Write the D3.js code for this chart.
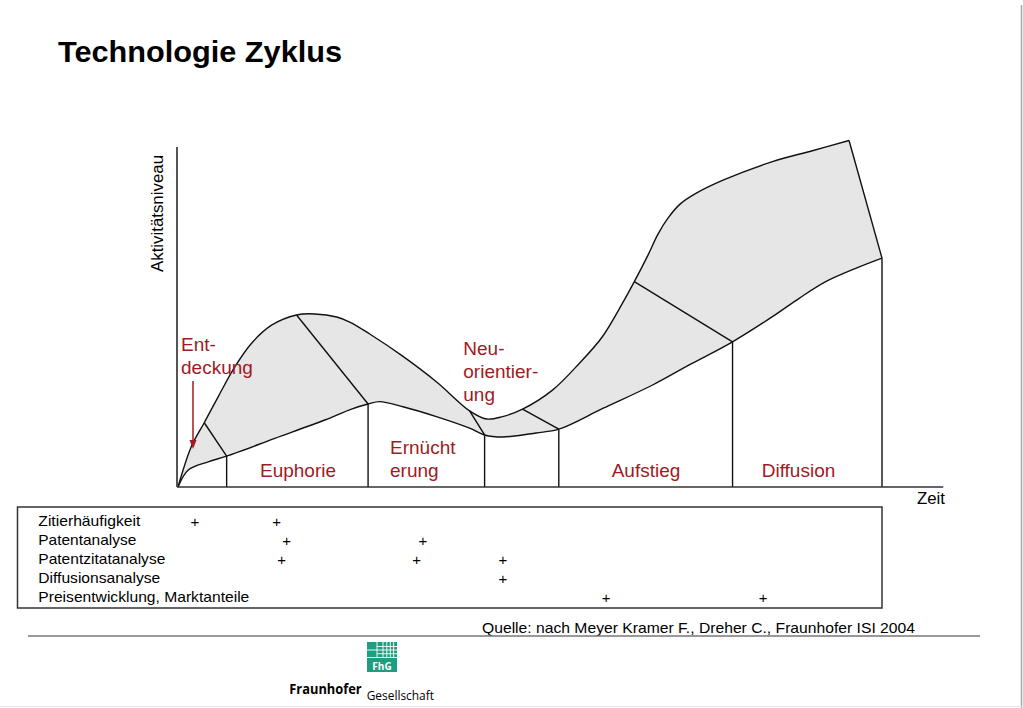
<!DOCTYPE html>
<html><head><meta charset="utf-8">
<script src="https://cdn.jsdelivr.net/npm/d3@7"></script>
<style>
html,body{margin:0;padding:0;background:#fff;}
svg{display:block;}
text{font-family:"Liberation Sans",Arial,Helvetica,sans-serif;}
</style>
</head><body>
<svg id="c" width="1023" height="708"></svg>
<script>
// ---------- data (time 0..100, activity 0..100) ----------
const upperCurve = [[0,0],[1.9,11.9],[3.73,18.9],[5.72,26.6],[8.09,35.4],[10.45,42.3],[13.29,47.6],[16.84,50.6],[19.43,50.9],[22.55,50.0],[24.4,48.5],[27.23,45.0],[31.91,38.5],[36.74,30.9],[41.42,22.4],[43.83,20.0],[46.1,20.7],[48.94,22.9],[53.19,28.5],[57.02,36.4],[60.28,44.2],[63.12,54.0],[64.82,60.4],[66.76,68.2],[68.18,74.4],[69.6,79.1],[71.31,83.2],[73.44,86.2],[77.5,90.3],[84.44,95.7],[90.11,98.9],[95.32,101.9]];
const lowerCurve = [[0,0],[1.46,5.0],[4.3,7.4],[6.91,9.1],[13.76,14.3],[20.85,19.7],[24.64,22.9],[27.0,24.4],[28.65,25.1],[31.96,23.6],[36.7,20.7],[41.42,17.3],[43.55,15.3],[46.14,14.7],[50.88,15.9],[54.09,17.0],[60.33,23.1],[67.42,30.0],[72.62,35.9],[78.77,42.7],[84.44,50.1],[88.23,55.5],[92.01,60.4],[96.27,64.3],[100,67.3]];
const dividerTop    = [[3.73,18.9],[16.84,50.6],[41.42,22.4],[48.94,22.9],[64.82,60.4],[95.32,101.9]];
const dividerBottom = [[6.91,9.1],[27.0,24.4],[43.55,15.3],[54.09,17.0],[78.77,42.7],[100,67.3]];
const phaseLabels = [["Ent-","deckung"],["Euphorie"],["Ernücht","erung"],["Neu-","orientier-","ung"],["Aufstieg"],["Diffusion"]];
const methods = ["Zitierhäufigkeit","Patentanalyse","Patentzitatanalyse","Diffusionsanalyse","Preisentwicklung, Marktanteile"];
const methodMarks = [[2.41,14.02],[15.44,34.8],[14.73,33.9,46.16],[46.16],[60.8,83.1]];
const axisEnd = 108.7;
const titleText = "Technologie Zyklus";
const yAxisTitle = "Aktivitätsniveau";
const xAxisTitle = "Zeit";
const sourceText = "Quelle: nach Meyer Kramer F., Dreher C., Fraunhofer ISI 2004";

// ---------- drawing ----------
const svg = d3.select("#c");
const RED = "#a01a1f";
const x = d3.scaleLinear().domain([0,100]).range([178,882]);
const y = d3.scaleLinear().domain([0,100]).range([487,147]);

function txt(g, s, px, py, o) {
  const t = g.append("text").attr("x",px).attr("y",py).text(s)
    .attr("font-size",o.size).attr("fill",o.fill||"#000");
  if (o.bold) t.attr("font-weight","bold");
  if (o.anchor) t.attr("text-anchor",o.anchor);
  if (o.len) t.attr("textLength",o.len).attr("lengthAdjust","spacingAndGlyphs");
  if (o.family) t.style("font-family",o.family);
  return t;
}

// frame lines
svg.append("line").attr("x1",1021.5).attr("x2",1021.5).attr("y1",5).attr("y2",708).attr("stroke","#a8a8a8").attr("stroke-width",1.5);
svg.append("line").attr("x1",0).attr("x2",1023).attr("y1",706.5).attr("y2",706.5).attr("stroke","#e4e4e4").attr("stroke-width",1);

// title
txt(svg, titleText, 58, 62, {size:30, bold:true, len:284});

const line = d3.line().x(d=>x(d[0])).y(d=>y(d[1])).curve(d3.curveCatmullRom.alpha(0.5));
const upPath = line(upperCurve);
const lowRev = line(lowerCurve.slice().reverse());
svg.append("path").attr("d", upPath + "L" + lowRev.slice(1) + "Z").attr("fill","#e6e6e6").attr("stroke","none");

// dividers (slanted + vertical)
const g = svg.append("g").attr("stroke","#111").attr("stroke-width",1.4).attr("fill","none");
dividerTop.forEach((d,i)=>{
  const b = dividerBottom[i];
  g.append("line").attr("x1",x(d[0])).attr("y1",y(d[1])).attr("x2",x(b[0])).attr("y2",y(b[1]));
  g.append("line").attr("x1",x(b[0])).attr("y1",y(b[1])).attr("x2",x(b[0])).attr("y2",y(0));
});
g.append("path").attr("d",upPath);
g.append("path").attr("d",line(lowerCurve));

// axes
svg.append("line").attr("x1",x(0)-1).attr("x2",x(0)-1).attr("y1",y(100)).attr("y2",y(0)).attr("stroke","#555").attr("stroke-width",2);
svg.append("line").attr("x1",x(0)-1).attr("x2",x(axisEnd)).attr("y1",y(0)).attr("y2",y(0)).attr("stroke","#333").attr("stroke-width",1.6);
txt(svg, xAxisTitle, 917, 504, {size:16, len:28});
txt(svg.append("g").attr("transform","translate(162.5,272) rotate(-90)"), yAxisTitle, 0, 0, {size:16, len:117});

// phase labels
const labelPos = [
  {x:181, ys:[351,374]},
  {x:260, ys:[476.5]},
  {x:390, ys:[454,476.5]},
  {x:463.3, ys:[354.5,378,401]},
  {x:611.7, ys:[477]},
  {x:761.7, ys:[477]}
];
phaseLabels.forEach((lines,i)=>{
  lines.forEach((s,j)=>txt(svg, s, labelPos[i].x, labelPos[i].ys[j], {size:19, fill:RED}));
});
// arrow under "Entdeckung"
svg.append("line").attr("x1",193).attr("x2",193).attr("y1",381).attr("y2",442).attr("stroke",RED).attr("stroke-width",1.5);
svg.append("path").attr("d","M189.5,440 L196.5,440 L193,449 Z").attr("fill",RED);

// methods table
svg.append("rect").attr("x",17.5).attr("y",507).attr("width",864.5).attr("height",101).attr("fill","none").attr("stroke","#333").attr("stroke-width",1.5);
const row = d3.scalePoint().domain(methods).range([526,602]);
const methodLens = [102,98,127,122,211];
methods.forEach((m,i)=>{
  txt(svg, m, 38.3, row(m), {size:15, len:methodLens[i]});
  methodMarks[i].forEach(t=>txt(svg, "+", x(t), row(m)+1, {size:15, anchor:"middle"}));
});

// source
txt(svg, sourceText, 482, 633, {size:15, len:433});
svg.append("line").attr("x1",28).attr("x2",980).attr("y1",636).attr("y2",636).attr("stroke","#777").attr("stroke-width",1.5);

// logo
const lg = svg.append("g");
lg.append("rect").attr("x",367).attr("y",642).attr("width",30).attr("height",30).attr("fill","#1f9d80");
const wl = lg.append("g").attr("stroke","#fff").attr("stroke-width",0.9);
[[377,642,377,657.5],[383,642,383,657.5],[386.8,642,386.8,657.5],[390.3,642,390.3,657.5],[393.6,642,393.6,657.5],
 [377,646.5,397,646.5],[367,650,397,650],[377,653.7,397,653.7],[367,657.5,397,657.5]]
 .forEach(l=>wl.append("line").attr("x1",l[0]).attr("y1",l[1]).attr("x2",l[2]).attr("y2",l[3]));
txt(lg, "FhG", 382, 669.5, {size:10, bold:true, fill:"#fff", anchor:"middle", family:"'Open Sans',sans-serif"});
txt(lg, "Fraunhofer", 289.3, 694, {size:14, bold:true, len:72.4, family:"'Open Sans',sans-serif"});
txt(lg, "Gesellschaft", 366.7, 700, {size:12.5, len:67.3, family:"'Open Sans',sans-serif"});
</script>
</body></html>
